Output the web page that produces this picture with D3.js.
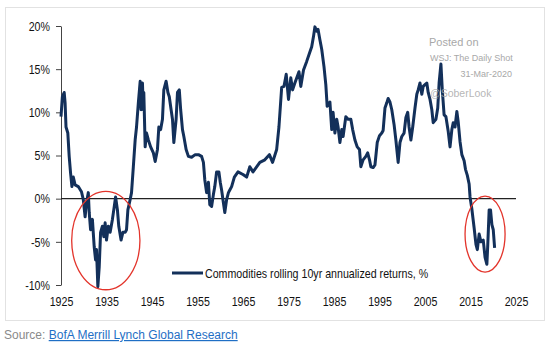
<!DOCTYPE html>
<html>
<head>
<meta charset="utf-8">
<script src="https://cdn.jsdelivr.net/npm/d3@7"></script>
<style>
  body { margin: 0; background: #fff; }
  svg { display: block; }
</style>
</head>
<body>
<div id="chart"></div>
<script>
// 年 (x)
const years = [
  1925.0, 1925.3, 1925.7, 1925.9, 1926.1, 1926.5, 1926.8, 1927.1, 1927.4, 1927.7,
  1928.1, 1928.8, 1929.5, 1929.9, 1930.3, 1930.6, 1931.0, 1931.2, 1931.5, 1931.9,
  1932.3, 1932.6, 1932.8, 1933.1, 1933.4, 1933.7, 1934.1, 1934.4, 1934.7, 1935.0,
  1935.4, 1935.8, 1936.3, 1936.6, 1937.0, 1937.4, 1937.7, 1938.2, 1938.6, 1939.1,
  1939.4, 1939.7, 1940.2, 1940.5, 1940.9, 1941.3, 1941.6, 1942.0, 1942.4, 1942.6,
  1942.9, 1943.1, 1943.2, 1943.5, 1943.8, 1944.2, 1944.7, 1945.3, 1945.7, 1946.2,
  1946.5, 1946.9, 1947.3, 1947.6, 1948.1, 1948.5, 1948.8, 1949.2, 1949.5, 1949.8,
  1950.3, 1950.6, 1951.0, 1951.3, 1951.7, 1952.0, 1952.5, 1953.0, 1953.7, 1954.5,
  1955.2, 1955.9, 1956.3, 1956.6, 1957.0, 1957.4, 1957.7, 1958.1, 1958.5, 1958.8,
  1959.2, 1959.7, 1960.0, 1960.3, 1960.7, 1961.0, 1961.4, 1961.8, 1962.1, 1962.5,
  1963.1, 1963.9, 1965.0, 1965.8, 1966.5, 1967.2, 1968.7, 1969.8, 1970.8, 1971.5,
  1972.4, 1972.9, 1973.5, 1974.0, 1974.5, 1975.0, 1975.5, 1975.9, 1976.4, 1977.3,
  1977.7, 1978.3, 1979.0, 1979.7, 1980.1, 1980.5, 1980.8, 1981.2, 1981.5, 1981.9,
  1982.3, 1982.8, 1983.2, 1983.5, 1984.1, 1984.5, 1984.8, 1985.2, 1985.6, 1985.9,
  1986.3, 1986.7, 1987.0, 1987.6, 1988.1, 1988.7, 1989.1, 1989.6, 1990.1, 1990.6,
  1990.9, 1991.4, 1992.0, 1992.4, 1992.8, 1993.1, 1993.6, 1994.0, 1994.5, 1995.0,
  1995.5, 1995.8, 1996.2, 1996.6, 1996.9, 1997.3, 1997.7, 1998.2, 1998.6, 1999.1,
  1999.5, 1999.9, 2000.4, 2000.8, 2001.2, 2001.5, 2001.9, 2002.3, 2002.8, 2003.2,
  2003.5, 2003.9, 2004.3, 2004.6, 2005.0, 2005.4, 2005.7, 2006.1, 2006.5, 2006.8,
  2007.4, 2007.8, 2008.1, 2008.5, 2008.8, 2009.2, 2009.6, 2010.1, 2010.5, 2010.9,
  2011.2, 2011.6, 2012.0, 2012.3, 2012.7, 2013.1, 2013.6, 2013.9, 2014.3, 2014.7,
  2014.9, 2015.3, 2015.5, 2015.8, 2016.2, 2016.5, 2016.9, 2017.3, 2017.8, 2018.2,
  2018.6, 2018.8, 2019.1, 2019.4, 2019.7, 2020.0, 2020.3
];

// 10年ローリング年率リターン (%)
const returns = [
  9.5, 11.8, 12.3, 11.1, 8.3, 7.6, 4.9, 3.0, 1.4, 2.5,
  1.6, 1.4, 0.8, -0.1, -2.1, -0.5, 0.7, -1.6, -3.6, -2.4,
  -5.6, -7.1, -5.9, -10.2, -7.9, -3.9, -3.2, -4.4, -2.8, -4.8,
  -3.2, -3.9, -2.4, -1.3, 0.2, -1.3, -3.2, -4.8, -3.9, -3.9,
  -3.6, -1.3, -0.1, 0.7, 3.7, 6.8, 8.3, 11.1, 13.6, 10.3,
  13.4, 10.3, 12.3, 6.0, 7.6, 6.8, 6.0, 5.3, 4.3, 5.7,
  8.3, 8.0, 9.2, 12.6, 13.6, 12.3, 11.8, 10.3, 9.2, 6.5,
  9.2, 12.3, 12.6, 10.3, 8.0, 7.2, 5.7, 4.9, 4.8, 5.1,
  5.1, 4.9, 4.2, 2.2, 0.7, 1.9, -0.7, -0.9, 0.5, 1.4,
  3.1, 3.1, 1.9, 1.0, -0.5, -1.6, -0.1, 0.7, 1.0, 1.4,
  2.5, 3.1, 2.8, 2.5, 3.7, 3.1, 4.2, 4.5, 5.1, 4.2,
  5.7, 8.3, 12.9, 13.0, 14.4, 11.5, 14.0, 12.6, 13.4, 14.7,
  13.0, 14.9, 15.9, 17.0, 17.6, 18.8, 19.9, 19.4, 19.6, 18.4,
  17.3, 15.3, 13.2, 10.7, 11.2, 8.0, 10.0, 7.6, 9.2, 8.3,
  6.5, 8.0, 7.2, 9.5, 9.2, 9.2, 8.0, 6.8, 6.0, 5.7,
  3.7, 4.5, 4.9, 5.3, 4.5, 3.7, 3.6, 3.9, 6.5, 7.3,
  7.6, 7.9, 10.5, 11.1, 11.6, 11.2, 10.3, 8.6, 6.8, 4.2,
  6.5, 7.2, 7.6, 9.4, 10.0, 8.3, 6.8, 8.3, 10.5, 12.1,
  12.6, 13.4, 12.1, 13.0, 13.2, 13.4, 12.3, 11.5, 10.3, 8.8,
  9.2, 10.5, 13.4, 15.6, 12.6, 9.7, 9.5, 7.8, 6.0, 8.0,
  8.8, 8.3, 10.1, 8.9, 6.6, 5.1, 4.4, 3.4, 2.7, 1.7,
  0.2, -1.2, -2.1, -3.4, -5.3, -5.9, -4.1, -5.0, -4.8, -6.8,
  -7.6, -5.3, -1.3, -1.3, -3.0, -3.6, -5.7
];

const xTicks = [1925, 1935, 1945, 1955, 1965, 1975, 1985, 1995, 2005, 2015, 2025];
const yTicks = [-10, -5, 0, 5, 10, 15, 20];

// 丸印 (中心の年, 中心の値, 横半径[年], 縦半径[%])
const circleYears = [1934.85, 2018.2];
const circleValues = [-4.85, -4.1];
const circleRadiusYears = [7.5, 4.4];
const circleRadiusValues = [5.7, 4.4];

const seriesName = 'Commodities rolling 10yr annualized returns, %';
const watermark = ['Posted on', 'WSJ: The Daily Shot', '31-Mar-2020', '@SoberLook'];

const regular = "'Liberation Sans', Arial, sans-serif";
const squeeze = 0.82; // 細字体の代わりに横方向を縮める
const navy = '#13305a';

// svg領域設定
const svgWidth = 554;
const svgHeight = 349;
const svg = d3.select('#chart')
  .append('svg')
  .attr('width', svgWidth)
  .attr('height', svgHeight);

// 枠
svg.append('rect')
  .attr('x', 5.5)
  .attr('y', 7.5)
  .attr('width', 539)
  .attr('height', 313)
  .attr('fill', '#fff')
  .attr('stroke', '#e2e2e2');

// scale設定
const x = d3.scaleLinear().domain([1925, 2025]).range([61, 516]);
const y = d3.scaleLinear().domain([-10, 20]).range([285, 26]);

// y軸
const yAxis = svg.append('g')
  .attr('transform', 'translate(61,0)')
  .call(d3.axisLeft(y).tickValues(yTicks).tickSize(5).tickSizeOuter(0).tickPadding(6)
    .tickFormat(d => d + '%'));
yAxis.select('.domain').attr('stroke', '#444');
yAxis.selectAll('.tick line').attr('stroke', '#444');
yAxis.selectAll('text')
  .attr('font-family', regular)
  .attr('font-size', 13)
  .attr('fill', '#111')
  .attr('x', -11 / squeeze)
  .attr('transform', `scale(${squeeze},1)`);

// x軸 (ラベルのみ)
const xAxis = svg.append('g')
  .attr('transform', 'translate(0,290)')
  .call(d3.axisBottom(x).tickValues(xTicks).tickSize(0).tickPadding(7).tickFormat(d3.format('d')));
xAxis.select('.domain').remove();
xAxis.selectAll('text')
  .attr('font-family', regular)
  .attr('font-size', 13)
  .attr('fill', '#111')
  .attr('transform', `scale(${squeeze},1)`);

// 0%ライン
svg.append('line')
  .attr('x1', x(1925))
  .attr('x2', x(2025))
  .attr('y1', y(0))
  .attr('y2', y(0))
  .attr('stroke', '#222')
  .attr('stroke-width', 1.2);

// 系列
const data = years.map((d, i) => ({ year: d, value: returns[i] }));
const line = d3.line()
  .x(d => x(d.year))
  .y(d => y(d.value));

svg.append('path')
  .datum(data)
  .attr('d', line)
  .attr('fill', 'none')
  .attr('stroke', navy)
  .attr('stroke-width', 3)
  .attr('stroke-linejoin', 'round');

// 凡例
svg.append('line')
  .attr('x1', 172)
  .attr('x2', 203)
  .attr('y1', 273)
  .attr('y2', 273)
  .attr('stroke', navy)
  .attr('stroke-width', 3);
svg.append('text')
  .attr('transform', `translate(205,278) scale(${squeeze},1)`)
  .attr('font-family', regular)
  .attr('font-size', 13)
  .attr('fill', '#111')
  .text(seriesName);

// 赤丸
circleYears.forEach((cy, i) => {
  svg.append('ellipse')
    .attr('cx', x(cy))
    .attr('cy', y(circleValues[i]))
    .attr('rx', x(cy + circleRadiusYears[i]) - x(cy))
    .attr('ry', y(0) - y(circleRadiusValues[i]))
    .attr('fill', 'none')
    .attr('stroke', '#e3342b')
    .attr('stroke-width', 1.3);
});

// ウォーターマーク
const wm = svg.append('g')
  .attr('font-family', regular)
  .attr('fill', '#a8a8a8');
wm.append('text').attr('x', 429).attr('y', 46).attr('font-size', 11).text(watermark[0]);
wm.append('text').attr('x', 430).attr('y', 61).attr('font-size', 9).text(watermark[1]);
wm.append('text').attr('x', 512).attr('y', 77).attr('font-size', 9)
  .attr('text-anchor', 'end').text(watermark[2]);
wm.append('text').attr('x', 430).attr('y', 97).attr('font-size', 10.5)
  .attr('fill-opacity', 0.85).text(watermark[3]);

// 出典
const src = svg.append('text')
  .attr('x', 4)
  .attr('y', 339)
  .attr('font-family', regular)
  .attr('font-size', 12);
src.append('tspan').attr('fill', '#8a8a8a').text('Source: ');
src.append('tspan')
  .attr('fill', '#1f6fc5')
  .attr('text-decoration', 'underline')
  .text('BofA Merrill Lynch Global Research');
</script>
</body>
</html>
